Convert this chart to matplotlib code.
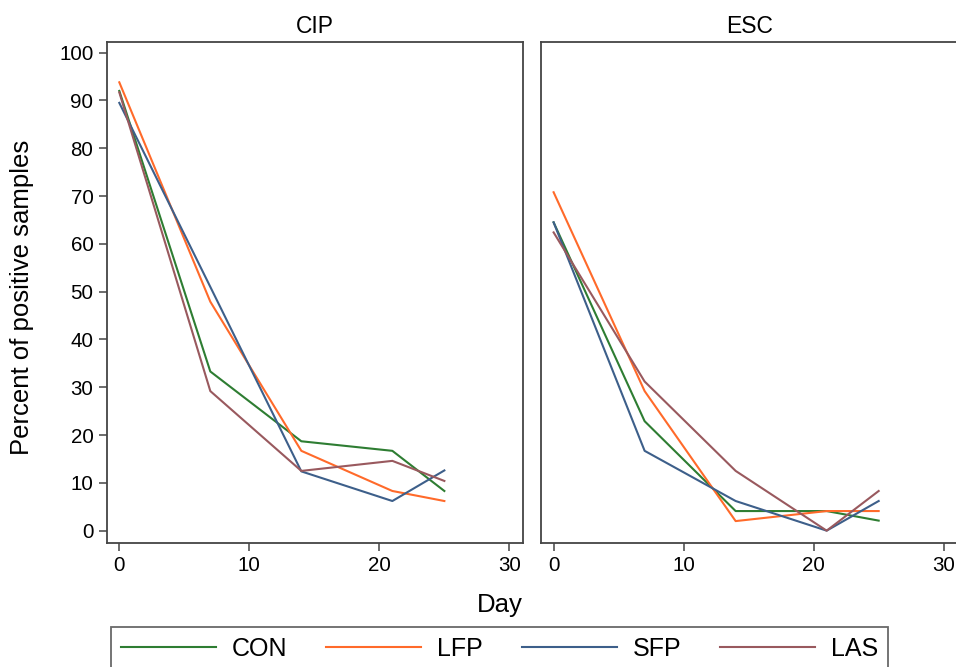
import matplotlib
matplotlib.use('Agg')
import matplotlib.pyplot as plt

days = [0, 7, 14, 21, 25]

cip_con = [92.0, 33.3, 18.7, 16.7, 8.3]
cip_lfp = [93.8, 47.9, 16.7, 8.3, 6.2]
cip_sfp = [89.5, 51.0, 12.4, 6.2, 12.6]
cip_las = [91.7, 29.2, 12.5, 14.6, 10.4]

esc_con = [64.5, 22.9, 4.1, 4.1, 2.1]
esc_lfp = [70.8, 29.2, 2.0, 4.1, 4.1]
esc_sfp = [64.5, 16.7, 6.2, 0.0, 6.2]
esc_las = [62.4, 31.2, 12.5, 0.0, 8.3]

groups = ['CON', 'LFP', 'SFP', 'LAS']
colors = ['#2e7d32', '#ff6a2a', '#3d5f8a', '#99595e']

panels = [('CIP', [cip_con, cip_lfp, cip_sfp, cip_las]),
          ('ESC', [esc_con, esc_lfp, esc_sfp, esc_las])]

plt.rc('font', family='Liberation Sans', size=14)

fig = plt.figure(figsize=(9.56, 6.67), dpi=100)
ax1 = fig.add_axes([0.1116, 0.186, 0.4355, 0.7515])
ax2 = fig.add_axes([0.5659, 0.186, 0.4355, 0.7515])

for ax, (title, series) in zip([ax1, ax2], panels):
    for vals, name, c in zip(series, groups, colors):
        ax.plot(days, vals, color=c, linewidth=1.5, label=name)
    ax.set_title(title, fontsize=16.5, pad=6)
    ax.set_xlim(-0.97, 31.05)
    ax.set_ylim(-2.57, 102.3)
    ax.set_xticks([0, 10, 20, 30])
    ax.set_yticks(range(0, 101, 10))
    ax.tick_params(direction='out', length=6, width=1.1, labelsize=14.8,
                   color='#444444')
    for s in ax.spines.values():
        s.set_color('#444444')
        s.set_linewidth(1.3)

ax2.set_yticks([])
fig.text(0.023, 1 - 297 / 667, 'Percent of positive samples', rotation=90,
         ha='center', va='center', fontsize=18.5)
fig.text(0.523, 1 - 605 / 667, 'Day', ha='center', va='center', fontsize=18.5)

handles, labels = ax1.get_legend_handles_labels()
leg = fig.legend(handles, labels, loc='upper left', bbox_to_anchor=(0.116, 0.060),
                 ncol=4, frameon=True, fancybox=False, fontsize=18,
                 handlelength=3.8, columnspacing=1.55, handletextpad=0.64,
                 borderpad=0.4, borderaxespad=0)
leg.get_frame().set_edgecolor('#444444')
leg.get_frame().set_linewidth(1.3)

fig.savefig('out.png', dpi=100)
